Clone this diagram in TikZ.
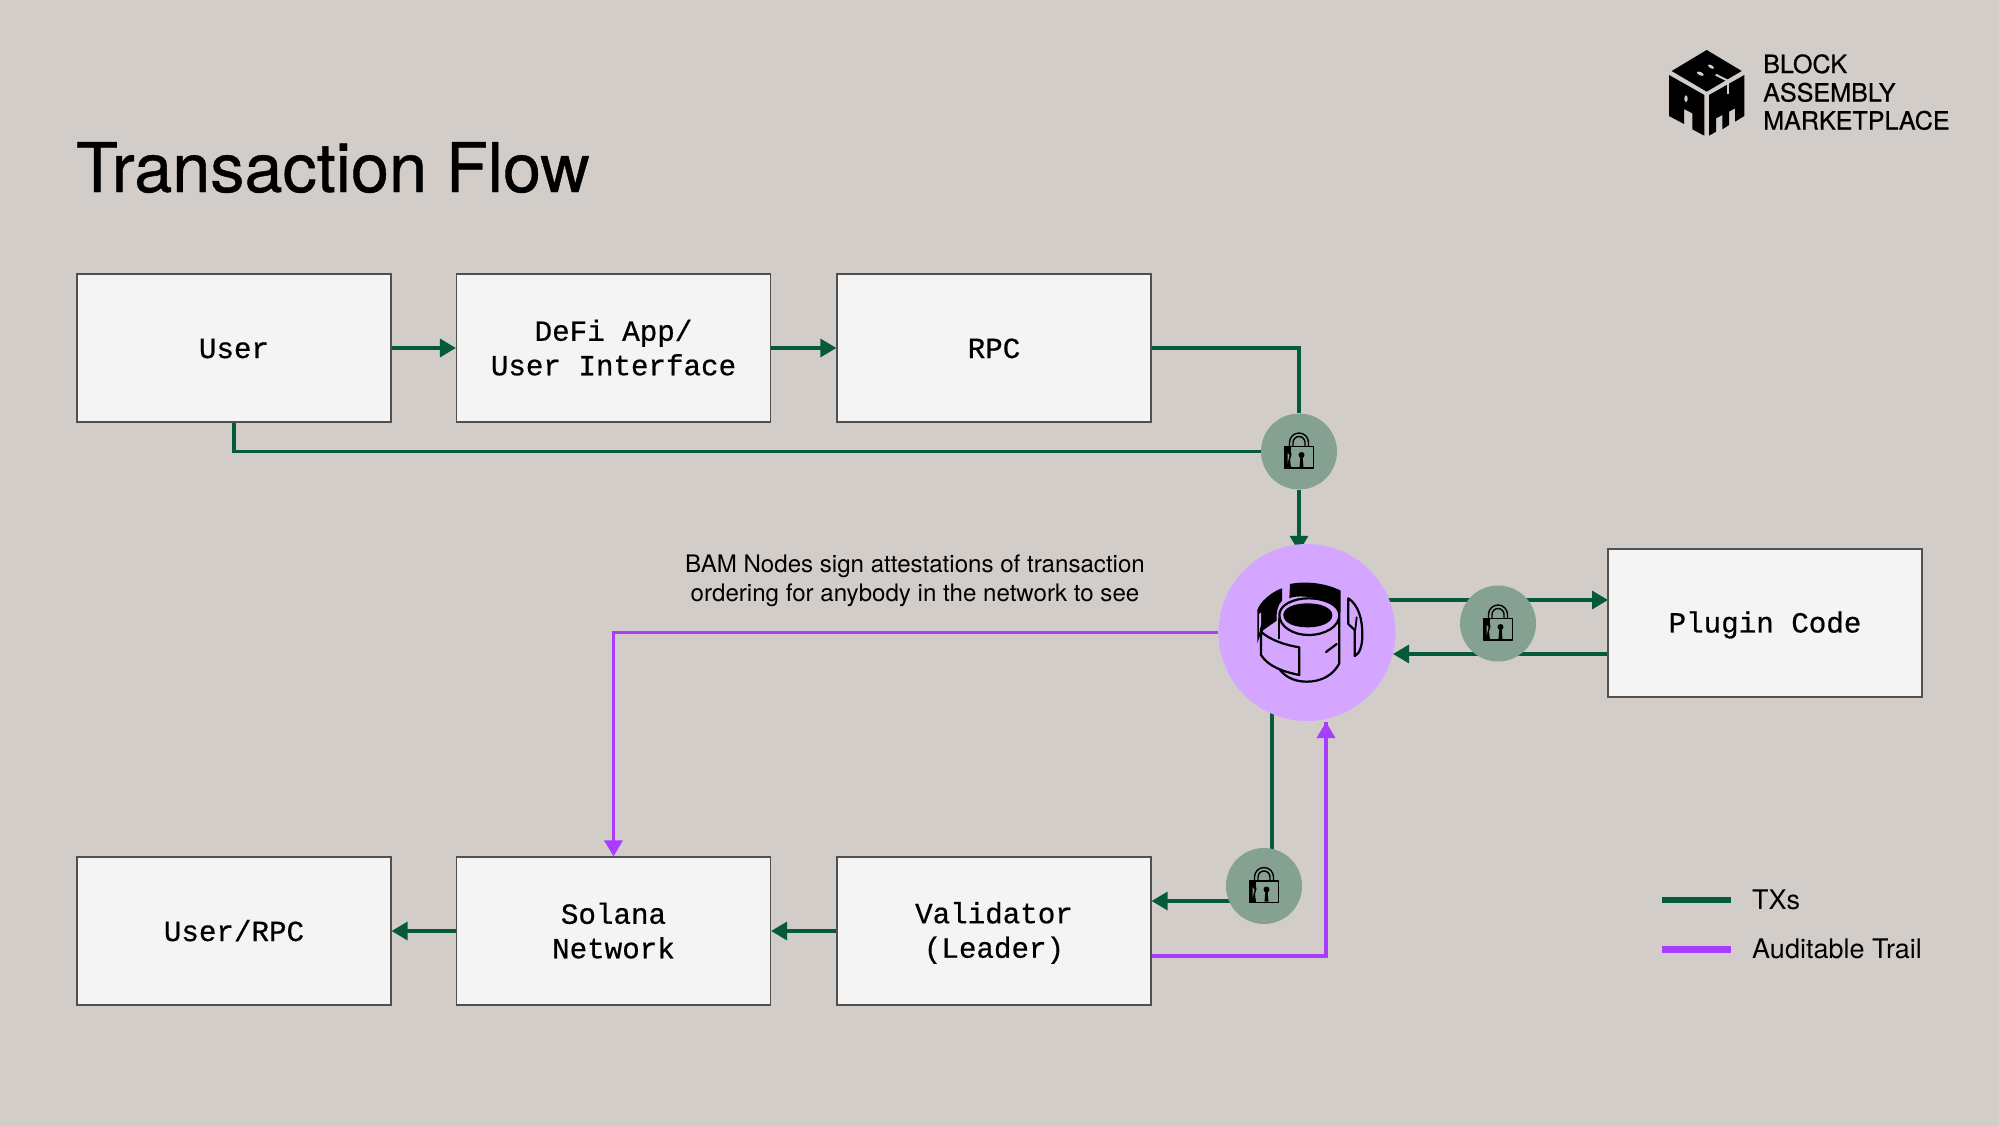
\documentclass[tikz,border=0pt]{standalone}
\usepackage{fontspec}
\setmainfont{TeX Gyre Heros}
\newfontfamily\boxfont[FakeBold=0.6]{Liberation Mono}
\newfontfamily\titlefont[FakeBold=0.6]{TeX Gyre Heros}
\usetikzlibrary{arrows.meta,backgrounds,calc}
\definecolor{pagebg}{HTML}{D2CDC9}
\definecolor{boxbg}{HTML}{F4F4F4}
\definecolor{boxedge}{HTML}{505050}
\definecolor{txgreen}{HTML}{065A3C}
\definecolor{trailpurple}{HTML}{A83CFF}
\definecolor{bamfill}{HTML}{D4A6FF}
\definecolor{lockfill}{HTML}{85A192}
\newcommand{\ls}{\rule[-5pt]{0pt}{30pt}}
\tikzset{
  flowbox/.style={draw=boxedge,line width=1.2pt,fill=boxbg,minimum width=314pt,minimum height=148pt,inner sep=0pt,align=center,
    font=\boxfont\fontsize{29.2}{34.5}\selectfont},
  txline/.style={draw=txgreen,line width=3.3pt},
  txarrow/.style={txline,-{Triangle[length=16pt,width=18pt]}},
  trailline/.style={draw=trailpurple,line width=3.3pt},
  trailarrow/.style={trailline,-{Triangle[length=16pt,width=18pt]}},
  lockdisc/.style={circle,fill=lockfill,minimum size=76pt,inner sep=0pt},
  bamdisc/.style={circle,fill=bamfill,minimum size=177pt,inner sep=0pt},
  plainlabel/.style={inner sep=0pt,text=black,align=center},
  lockicon/.pic={
    \draw[black,line width=1.5pt,line join=round] (-14.5,-5) rectangle (14.5,16.5);
    \draw[black,line width=1.4pt] (-9.5,-5) -- (-9.5,-9) arc[start angle=180,end angle=360,radius=9.5] -- (9.5,-5);
    \draw[black,line width=1.4pt] (-6,-5) -- (-6,-9) arc[start angle=180,end angle=360,radius=6] -- (6,-5);
    \fill[black] (-14.5,-5) -- (-8,-5) .. controls (-9,-2) and (-8,1) .. (-7.5,3) -- (-9,8) -- (-8,16.5) -- (-14.5,16.5) -- cycle;
    \fill[lockfill] (-11.5,1) -- (-9.5,4) -- (-11.5,12) -- cycle;
    \fill[black] (2.5,3.5) circle[radius=3];
    \fill[black] (1.5,4) -- (0.5,15.5) -- (4.5,15.5) -- (3.5,4) -- cycle;
  }
}
\begin{document}
\begin{tikzpicture}[x=1pt,y=-1pt]
\useasboundingbox (0,0) rectangle (1999,1125);
\begin{pgfonlayer}{background}
  \fill[pagebg] (-3,-3) rectangle (2002,1128);
\end{pgfonlayer}

% title
\node[plainlabel,anchor=base west,font=\titlefont\fontsize{68.4}{68}\selectfont] (title) at (76,192) {Transaction Flow};

% logo text
\node[plainlabel,anchor=base west,font=\titlefont\fontsize{25.1}{25}\selectfont] (logoa) at (1763,73) {BLOCK};
\node[plainlabel,anchor=base west,font=\titlefont\fontsize{25.1}{25}\selectfont] (logob) at (1763,101.5) {ASSEMBLY};
\node[plainlabel,anchor=base west,font=\titlefont\fontsize{25.1}{25}\selectfont] (logoc) at (1763,129.5) {MARKETPLACE};

% logo mark
\begin{scope}[shift={(1660,40)},scale=1/3]
  \fill[black] (140,30) -- (245,93) -- (140,155) -- (35,93) -- cycle;
  \fill[pagebg,rotate around={-30:(153,80)}] (153,80) ellipse[x radius=10,y radius=4.5];
  \fill[pagebg,rotate around={-25:(121,101)}] (121,101) ellipse[x radius=11,y radius=5];
  \draw[pagebg,line width=2pt] (167,104) -- (205,123) -- (222,111);
  \fill[black] (27,105) -- (133,165) -- (133,287) -- (97,268) -- (97,220) -- (72,207) -- (72,252) -- (27,228) -- cycle;
  \fill[pagebg] (78,176) ellipse[x radius=5,y radius=10];
  \fill[black] (147,165) -- (253,105) -- (253,228) -- (225,245) -- (225,205) -- (207,215) -- (207,255) -- (187,268) -- (187,225) -- (168,235) -- (168,275) -- (147,287) -- cycle;
  \draw[pagebg,line width=2pt] (205,120) -- (205,162);
\end{scope}

% boxes
\node[flowbox] (user) at (234,348) {\ls User};
\node[flowbox] (defi) at (613.5,348) {\ls DeFi App/\\\ls User Interface};
\node[flowbox] (rpc) at (994,348) {\ls RPC};
\node[flowbox] (plugin) at (1765,623) {\ls Plugin Code};
\node[flowbox] (userrpc) at (234,931) {\ls User/RPC};
\node[flowbox] (solana) at (613.5,931) {\ls Solana\\\ls Network};
\node[flowbox] (leader) at (994,931) {\ls Validator\\\ls (Leader)};

% discs
\node[bamdisc] (bam) at (1307,632.5) {};
\node[lockdisc] (lockup) at (1299,451.5) {};
\node[lockdisc] (lockright) at (1498,623.5) {};
\node[lockdisc] (lockdown) at (1264,886) {};
\pic at (lockup) {lockicon};
\pic at (lockright) {lockicon};
\pic at (lockdown) {lockicon};

% BAM icon
\begin{scope}[shift={(1200,530)},scale=1/3,line join=round,line cap=round]
  \fill[black] (270,162) .. controls (320,152) and (380,160) .. (422,182) -- (422,250) .. controls (395,205) and (300,190) .. (268,205) -- cycle;
  \fill[black] (246,175) -- (246,212) .. controls (232,225) and (228,250) .. (230,272) -- (190,300) -- (178,322) -- (172,340) -- (172,240) .. controls (180,215) and (215,185) .. (246,175) -- cycle;
  \fill[bamfill] (183,248) -- (183,285) -- (177,312) -- (177,252) -- cycle;
  \draw[black,line width=2.2pt,fill=bamfill] (238,255) .. controls (238,225) and (280,205) .. (325,205) .. controls (375,205) and (418,225) .. (418,255) .. controls (418,290) and (375,315) .. (325,315) .. controls (280,315) and (238,290) .. (238,255) -- cycle;
  \fill[black] (250,255) .. controls (250,232) and (285,220) .. (323,220) .. controls (365,220) and (397,235) .. (397,255) .. controls (397,280) and (360,292) .. (323,292) .. controls (285,292) and (250,280) .. (250,255) -- cycle;
  \draw[black,line width=2.2pt] (236,265) -- (236,325);
  \draw[black,line width=2.2pt] (418,262) -- (418,400) .. controls (400,435) and (365,455) .. (320,455) .. controls (290,455) and (260,445) .. (240,420);
  \draw[black,line width=2.2pt] (183,295) -- (183,375) .. controls (205,410) and (250,425) .. (298,435) -- (298,352) .. controls (255,345) and (210,330) .. (183,305);
  \draw[black,line width=2.2pt] (378,366) -- (410,342);
  \draw[black,line width=2.2pt] (445,205) -- (445,282) -- (464,300) -- (464,378) .. controls (478,372) and (487,350) .. (487,315) .. controls (487,265) and (475,225) .. (445,205) -- cycle;
  \draw[black,line width=1.8pt] (470,262) -- (466,298);
\end{scope}

% connector waypoints
\coordinate (downstart) at (1272,700);
\coordinate (downout) at (1264,901);
\coordinate (upin) at (1326,722);
\coordinate (pluginout) at (1608,654);
\coordinate (pluginin) at (1608,600);
\coordinate (trailout) at (1326,956);
\coordinate (bamout) at (1385,600);
\coordinate (bamin) at (1393,654);

\begin{pgfonlayer}{background}
  \draw[txarrow] (user) -- (defi);
  \draw[txarrow] (defi) -- (rpc);
  \draw[txline] (rpc.east) -| (lockup.north);
  \draw[txline] (user.south) |- (lockup.west);
  \draw[txarrow] (lockup.south) -- ($(lockup.south |- bam.north)+(0,8)$);
  \draw[txarrow] (bamout) -- (pluginin);
  \draw[txarrow] (pluginout) -- (bamin);
  \draw[txline] (downstart) -- (downstart |- lockdown.center);
  \draw[txarrow] (downout) -- (downout -| leader.east);
  \draw[txarrow] (leader) -- (solana);
  \draw[txarrow] (solana) -- (userrpc);
  \draw[trailline] (leader.east |- trailout) -- (trailout) -- (upin);
  \draw[trailarrow] (trailout) -- (upin);
  \draw[trailarrow] (bam.west) -| (solana.north);
\end{pgfonlayer}

% annotation
\node[plainlabel,font=\fontsize{24.1}{29.5}\selectfont,anchor=base] (note) at (915,601.5) {BAM Nodes sign attestations of transaction\\ordering for anybody in the network to see};

% legend
\coordinate (legaa) at (1662,900);
\coordinate (legab) at (1731,900);
\coordinate (legba) at (1662,949.5);
\coordinate (legbb) at (1731,949.5);
\draw[draw=txgreen,line width=6.5pt] (legaa) -- (legab);
\draw[draw=trailpurple,line width=6.5pt] (legba) -- (legbb);
\node[plainlabel,anchor=base west,font=\fontsize{27}{27}\selectfont] (legtx) at (1752,909) {TXs};
\node[plainlabel,anchor=base west,font=\fontsize{27}{27}\selectfont] (legtrail) at (1752,958) {Auditable Trail};
\end{tikzpicture}
\end{document}
